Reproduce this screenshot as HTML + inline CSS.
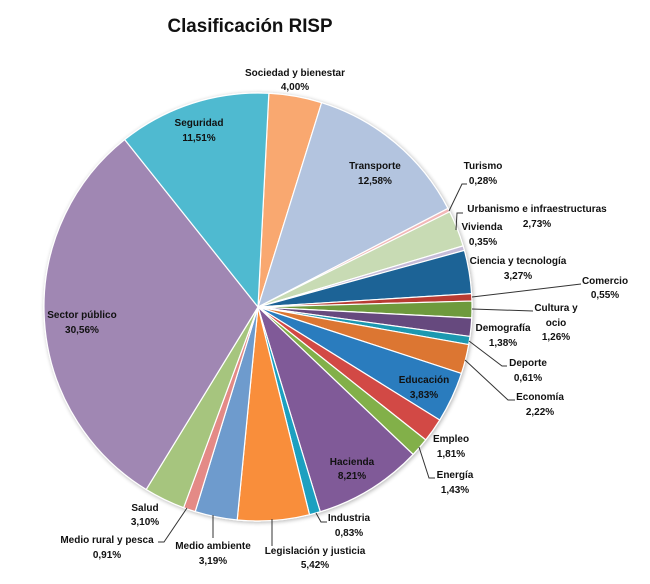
<!DOCTYPE html>
<html><head><meta charset="utf-8"><style>
html,body{margin:0;padding:0;background:#fff;}
svg text{font-family:"Liberation Sans",sans-serif;font-weight:bold;fill:#111;}
</style></head><body>
<svg id="s" width="650" height="579" viewBox="0 0 650 579" xmlns="http://www.w3.org/2000/svg">
<defs><filter id="sh" x="-10%" y="-10%" width="120%" height="120%"><feGaussianBlur in="SourceAlpha" stdDeviation="2"/><feOffset dx="1" dy="1"/><feComponentTransfer><feFuncA type="linear" slope="0.3"/></feComponentTransfer><feMerge><feMergeNode/><feMergeNode in="SourceGraphic"/></feMerge></filter></defs>
<text x="250" y="32" font-size="19" text-anchor="middle" textLength="165" lengthAdjust="spacingAndGlyphs">Clasificación RISP</text>
<g id="pie" filter="url(#sh)"></g>
<g stroke="#333" stroke-width="1" fill="none">
<polyline points="449,211 462,184 467,184"/>
<polyline points="456,230 457,213 463,213"/>
<polyline points="472,297 581,284"/>
<polyline points="472,309 533,311"/>
<polyline points="469,341 502,366 507,366"/>
<polyline points="465,360 508,400 515,400"/>
<polyline points="419,447 429,478 435,478"/>
<polyline points="316,513 321,522 327,522"/>
<polyline points="272,519 272,546"/>
<polyline points="213,515 213,538"/>
<polyline points="187,508 164,542 158,542"/>
</g>
<g font-size="10" text-anchor="middle">
<text x="295" y="76">Sociedad y bienestar</text><text x="295" y="90">4,00%</text>
<text x="199" y="126">Seguridad</text><text x="199" y="141">11,51%</text>
<text x="375" y="169">Transporte</text><text x="375" y="184">12,58%</text>
<text x="483" y="169">Turismo</text><text x="483" y="184">0,28%</text>
<text x="537" y="212">Urbanismo e infraestructuras</text><text x="537" y="227">2,73%</text>
<text x="482" y="230">Vivienda</text><text x="483" y="245">0,35%</text>
<text x="518" y="264">Ciencia y tecnología</text><text x="518" y="279">3,27%</text>
<text x="605" y="284">Comercio</text><text x="605" y="298">0,55%</text>
<text x="556" y="311">Cultura y</text><text x="556" y="326">ocio</text><text x="556" y="340">1,26%</text>
<text x="503" y="331">Demografía</text><text x="503" y="346">1,38%</text>
<text x="528" y="366">Deporte</text><text x="528" y="381">0,61%</text>
<text x="540" y="400">Economía</text><text x="540" y="415">2,22%</text>
<text x="424" y="383">Educación</text><text x="424" y="398">3,83%</text>
<text x="451" y="442">Empleo</text><text x="451" y="457">1,81%</text>
<text x="455" y="478">Energía</text><text x="455" y="493">1,43%</text>
<text x="352" y="465">Hacienda</text><text x="352" y="479">8,21%</text>
<text x="349" y="521">Industria</text><text x="349" y="536">0,83%</text>
<text x="315" y="554">Legislación y justicia</text><text x="315" y="568">5,42%</text>
<text x="213" y="549">Medio ambiente</text><text x="213" y="564">3,19%</text>
<text x="107" y="543">Medio rural y pesca</text><text x="107" y="558">0,91%</text>
<text x="145" y="511">Salud</text><text x="145" y="525">3,10%</text>
<text x="82" y="318">Sector público</text><text x="82" y="333">30,56%</text>
</g>
</svg>
<script>
var d=[[4.00,"#F9A870"],[12.58,"#B3C4DF"],[0.28,"#F2B8B8"],[2.73,"#C8DBB4"],[0.35,"#C5BBD8"],[3.27,"#1A6396"],[0.55,"#B83A33"],[1.26,"#6E9A3C"],[1.38,"#664A7E"],[0.61,"#1A98B0"],[2.22,"#DC7630"],[3.83,"#2A7BBE"],[1.81,"#D24A45"],[1.43,"#82B04A"],[8.21,"#805A98"],[0.83,"#1AA0C0"],[5.42,"#F98E3A"],[3.19,"#6E9BCD"],[0.91,"#E48A86"],[3.10,"#A6C57E"],[30.56,"#A087B3"],[11.51,"#4FBAD0"]];
var cx=258,cy=307,r=214,a=2.9*Math.PI/180,g=document.getElementById("pie"),h="";
function pt(t){return (cx+r*Math.sin(t)).toFixed(2)+","+(cy-r*Math.cos(t)).toFixed(2);}
for(var i=0;i<d.length;i++){var b=a+d[i][0]/100.03*2*Math.PI;var la=(b-a)>Math.PI?1:0;
h+='<path d="M'+cx+','+cy+' L'+pt(a)+' A'+r+','+r+' 0 '+la+' 1 '+pt(b)+' Z" fill="'+d[i][1]+'" stroke="#fff" stroke-width="1.2"/>';a=b;}
g.innerHTML=h;
</script>
</body></html>
